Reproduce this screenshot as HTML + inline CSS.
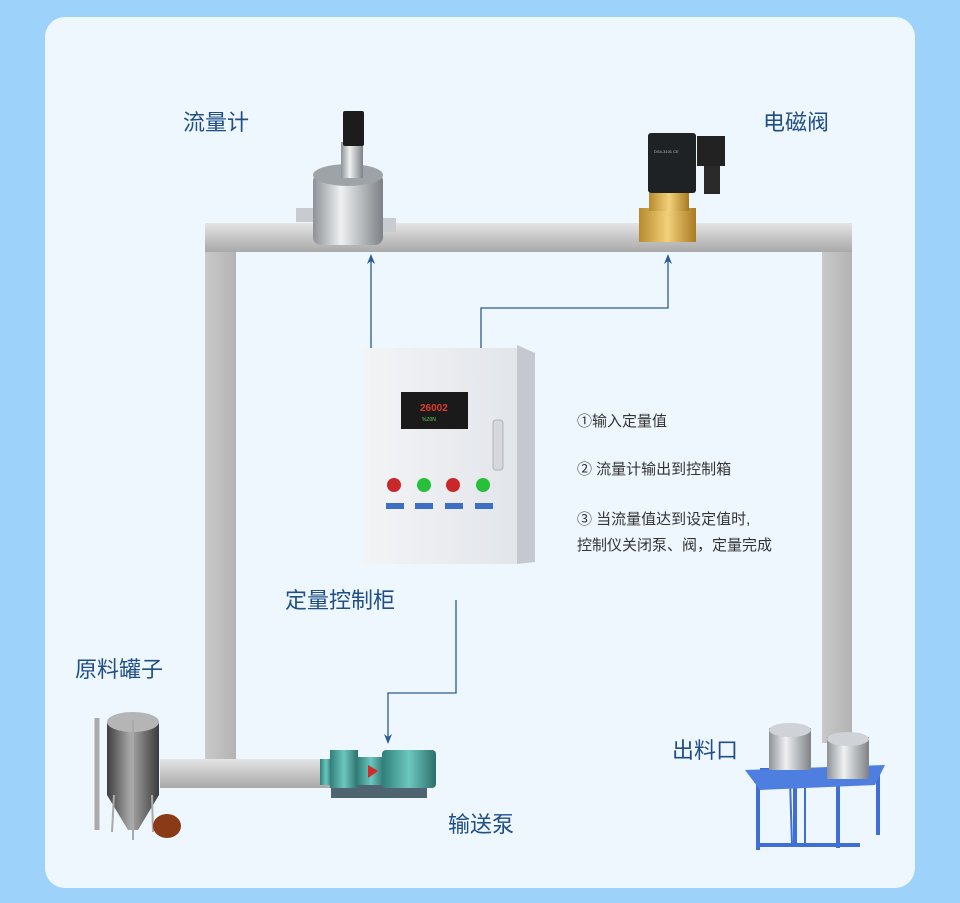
<!DOCTYPE html>
<html><head><meta charset="utf-8"><style>
html,body{margin:0;padding:0;width:960px;height:903px;overflow:hidden;background:#9dd3fb;}
svg{display:block}
text{font-family:"Liberation Sans","Noto Sans CJK SC",sans-serif;}
</style></head><body>
<svg width="960" height="903" viewBox="0 0 960 903" xmlns="http://www.w3.org/2000/svg">
<defs>
<linearGradient id="ph" x1="0" y1="0" x2="0" y2="1"><stop offset="0" stop-color="#e4e4e4"/><stop offset="1" stop-color="#a9a9a9"/></linearGradient>
<linearGradient id="pv" x1="0" y1="0" x2="1" y2="0"><stop offset="0" stop-color="#c9c9c9"/><stop offset="1" stop-color="#b3b3b3"/></linearGradient>
<linearGradient id="ss" x1="0" y1="0" x2="1" y2="0"><stop offset="0" stop-color="#8e9296"/><stop offset=".4" stop-color="#eef0f2"/><stop offset="1" stop-color="#7d8185"/></linearGradient>
<linearGradient id="br" x1="0" y1="0" x2="1" y2="0"><stop offset="0" stop-color="#b88a2e"/><stop offset=".5" stop-color="#f2d17a"/><stop offset="1" stop-color="#a97a22"/></linearGradient>
<linearGradient id="tk" x1="0" y1="0" x2="1" y2="0"><stop offset="0" stop-color="#3e3e3e"/><stop offset=".45" stop-color="#a9a9a9"/><stop offset="1" stop-color="#3a3a3a"/></linearGradient>
<linearGradient id="tl" x1="0" y1="0" x2="1" y2="0"><stop offset="0" stop-color="#2f7f7a"/><stop offset=".5" stop-color="#6cc7bf"/><stop offset="1" stop-color="#2d6f6b"/></linearGradient>
<linearGradient id="bx" x1="0" y1="0" x2="1" y2="0"><stop offset="0" stop-color="#f3f4f6"/><stop offset="1" stop-color="#e2e5ea"/></linearGradient>
<marker id="ar" markerWidth="8" markerHeight="8" refX="4" refY="7" orient="auto-start-reverse" markerUnits="userSpaceOnUse"><path d="M0,0 L4,8 L8,0 L4,3z" fill="#2a5b91"/></marker>
</defs>
<rect x="45" y="17" width="870" height="871" rx="20" fill="#eff7fe"/>

<!-- pipes -->
<rect x="205" y="223" width="31" height="565" fill="url(#pv)"/>
<rect x="822" y="223" width="30" height="520" fill="url(#pv)"/>
<rect x="205" y="223" width="647" height="29" fill="url(#ph)"/>
<rect x="160" y="759" width="180" height="29" fill="url(#ph)"/>

<!-- connectors -->
<g stroke="#2a5b91" stroke-width="1.3" fill="none">
<path d="M371,352 V258"/>
<path d="M481,352 V308 H668 V258"/>
<path d="M456,600 V693 H388 V740"/>
</g>
<path d="M367,264 L371,254 L375,264 L371,261z" fill="#2a5b91"/>
<path d="M664,264 L668,254 L672,264 L668,261z" fill="#2a5b91"/>
<path d="M384,734 L388,744 L392,734 L388,737z" fill="#2a5b91"/>

<!-- flow meter -->
<rect x="296" y="208" width="20" height="14" fill="#c8ccd0"/>
<rect x="376" y="218" width="20" height="14" fill="#c8ccd0"/>
<rect x="313" y="173" width="70" height="72" rx="8" fill="url(#ss)"/>
<ellipse cx="348" cy="175" rx="35" ry="11" fill="#9ea3a8"/>
<rect x="341" y="142" width="22" height="36" fill="url(#ss)"/>
<rect x="343" y="111" width="21" height="35" rx="2" fill="#1c1c1c"/>

<!-- valve -->
<rect x="639" y="208" width="57" height="34" fill="url(#br)"/>
<rect x="649" y="193" width="40" height="18" fill="url(#br)"/>
<rect x="648" y="133" width="48" height="60" rx="3" fill="#1f2224"/>
<rect x="697" y="136" width="28" height="30" fill="#222"/>
<rect x="704" y="166" width="16" height="28" fill="#2a2a2a"/>
<text x="654" y="153" font-size="4" fill="#bbb">DS4-3101 CE</text>

<!-- cabinet -->
<rect x="363" y="348" width="154" height="216" fill="url(#bx)"/>
<polygon points="517,345 535,353 535,562 517,564" fill="#c5c9cf"/>
<rect x="401" y="392" width="67" height="37" fill="#1a1a1a"/>
<text x="420" y="411" font-size="10" fill="#e03c2c" font-weight="bold">26002</text>
<text x="422" y="421" font-size="5" fill="#5bd35b">%Z0N</text>
<rect x="493" y="420" width="10" height="50" rx="3" fill="#d6d8dc" stroke="#b0b3b8"/>
<circle cx="394" cy="485" r="7" fill="#c8282a"/>
<circle cx="424" cy="485" r="7" fill="#27c03a"/>
<circle cx="453" cy="485" r="7" fill="#c8282a"/>
<circle cx="483" cy="485" r="7" fill="#27c03a"/>
<g fill="#3d6fc4"><rect x="386" y="503" width="18" height="6"/><rect x="415" y="503" width="18" height="6"/><rect x="445" y="503" width="18" height="6"/><rect x="475" y="503" width="18" height="6"/></g>

<!-- tank -->
<path d="M97,718 V830" stroke="#aaa" stroke-width="5" fill="none"/>
<rect x="107" y="723" width="52" height="72" fill="url(#tk)"/>
<ellipse cx="133" cy="722" rx="26" ry="10" fill="#b5b5b5"/>
<polygon points="107,795 159,795 138,830 128,830" fill="url(#tk)"/>
<g stroke="#aaa" stroke-width="2"><line x1="114" y1="795" x2="112" y2="832"/><line x1="152" y1="795" x2="153" y2="832"/><line x1="133" y1="720" x2="133" y2="840"/></g>
<ellipse cx="167" cy="826" rx="14" ry="12" fill="#8a3a16"/>

<!-- pump -->
<rect x="331" y="785" width="96" height="13" fill="#506370"/>
<rect x="320" y="759" width="12" height="26" fill="url(#tl)"/>
<rect x="330" y="750" width="28" height="38" fill="url(#tl)"/>
<rect x="357" y="757" width="28" height="28" fill="url(#tl)"/>
<polygon points="368,765 378,771 368,778" fill="#d02a2a"/>
<rect x="385" y="764" width="11" height="15" fill="#3f5864"/>
<rect x="382" y="750" width="54" height="38" rx="4" fill="url(#tl)"/>

<!-- outlet platform -->
<g stroke="#3f6fd4" stroke-width="4" fill="none">
<path d="M760,770 H880 M758,775 V850 M795,780 V845 M838,778 V848 M878,770 V835 M758,845 H860"/>
<path d="M790,780 L792,845 M805,780 L805,845" stroke-width="2"/>
</g>
<polygon points="745,770 885,765 875,785 760,790" fill="#4d7ee0"/>
<rect x="769" y="728" width="42" height="42" fill="url(#ss)"/>
<ellipse cx="790" cy="730" rx="21" ry="7" fill="#cfd2d6"/>
<rect x="827" y="737" width="42" height="42" fill="url(#ss)"/>
<ellipse cx="848" cy="739" rx="21" ry="7" fill="#cfd2d6"/>

<!-- labels -->
<g fill="#1f4e86" font-size="22">
<text x="183" y="130">流量计</text>
<text x="763" y="130">电磁阀</text>
<text x="285" y="608">定量控制柜</text>
<text x="75" y="677">原料罐子</text>
<text x="672" y="758">出料口</text>
<text x="448" y="832">输送泵</text>
</g>
<g fill="#333" font-size="15">
<text x="577" y="426">①输入定量值</text>
<text x="577" y="474">② 流量计输出到控制箱</text>
<text x="577" y="524">③ 当流量值达到设定值时,</text>
<text x="577" y="550">控制仪关闭泵、阀，定量完成</text>
</g>
</svg>
</body></html>
